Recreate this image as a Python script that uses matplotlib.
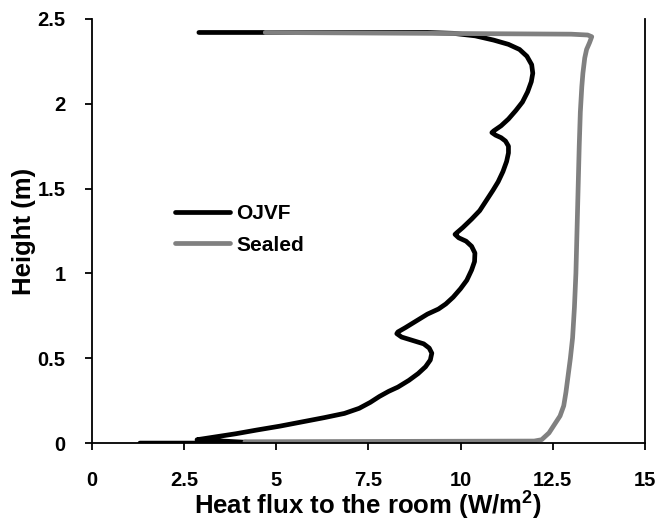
import numpy as np
import matplotlib
matplotlib.use('Agg')
import matplotlib.pyplot as plt

plt.rcParams['font.family'] = ['Liberation Sans', 'DejaVu Sans']
plt.rcParams['font.weight'] = 'bold'
plt.rcParams['mathtext.fontset'] = 'custom'
plt.rcParams['mathtext.bf'] = 'Liberation Sans:bold'
plt.rcParams['mathtext.rm'] = 'Liberation Sans:bold'

# OJVF profile (heat flux W/m2, height m), traced top to bottom
ojvf_flux = [2.9, 9.1, 9.8, 10.4, 10.9, 11.3, 11.6, 11.8, 11.93, 11.96,
             11.92, 11.82, 11.68, 11.5, 11.3, 11.1, 10.9, 10.85, 10.95, 11.1,
             11.22, 11.3, 11.3, 11.25, 11.15, 11.02, 10.88, 10.7, 10.52, 10.3,
             10.06, 9.9, 9.85, 9.95, 10.15, 10.3, 10.39, 10.38, 10.3, 10.17,
             10.0, 9.8, 9.6, 9.4, 9.1, 8.8, 8.5, 8.3, 8.27, 8.4,
             8.7, 9.0, 9.15, 9.22, 9.18, 9.05, 8.85, 8.6, 8.3, 8.05,
             7.8, 7.55, 7.25, 6.85, 6.3, 5.7, 5.1, 4.47, 3.9, 3.3,
             2.85, 4.6, 1.3]
ojvf_height = [2.42, 2.42, 2.415, 2.40, 2.375, 2.35, 2.32, 2.28, 2.23, 2.18,
               2.13, 2.07, 2.01, 1.96, 1.91, 1.87, 1.84, 1.83, 1.815, 1.80,
               1.78, 1.75, 1.71, 1.66, 1.60, 1.54, 1.49, 1.43, 1.37, 1.32,
               1.27, 1.24, 1.23, 1.21, 1.19, 1.16, 1.12, 1.07, 1.02, 0.96,
               0.91, 0.86, 0.82, 0.79, 0.76, 0.72, 0.68, 0.655, 0.645, 0.625,
               0.605, 0.585, 0.56, 0.53, 0.49, 0.45, 0.41, 0.37, 0.33, 0.305,
               0.275, 0.24, 0.205, 0.175, 0.15, 0.125, 0.10, 0.077, 0.055, 0.035,
               0.02, 0.0, 0.0]

# Sealed profile
sealed_flux = [4.7, 9.0, 13.0, 13.45, 13.56, 13.5, 13.42, 13.37, 13.32, 13.29,
               13.25, 13.22, 13.19, 13.16, 13.13, 13.09, 13.04, 12.98, 12.92,
               12.86, 12.8, 12.7, 12.55, 12.4, 12.2, 12.0, 4.15]
sealed_height = [2.42, 2.415, 2.41, 2.405, 2.395, 2.36, 2.32, 2.27, 2.18, 2.1,
                 1.95, 1.75, 1.5, 1.25, 1.0, 0.8, 0.62, 0.5, 0.4,
                 0.3, 0.22, 0.16, 0.11, 0.06, 0.02, 0.012, 0.008]

fig = plt.figure(figsize=(6.6, 5.25), dpi=100)
ax = fig.add_axes([0.1394, 0.156, 0.8376, 0.808])

ax.plot(ojvf_flux, ojvf_height, color='black', lw=3.4,
        solid_capstyle='round', solid_joinstyle='round', label='OJVF')
ax.plot(sealed_flux, sealed_height, color='#808080', lw=3.4,
        solid_capstyle='round', solid_joinstyle='round', label='Sealed')

ax.set_xlim(0, 15)
ax.set_ylim(0, 2.5)
ax.set_xticks([0, 2.5, 5, 7.5, 10, 12.5, 15])
ax.set_xticklabels(['0', '2.5', '5', '7.5', '10', '12.5', '15'])
ax.set_yticks([0, 0.5, 1, 1.5, 2, 2.5])
ax.set_yticklabels(['0', '0.5', '1', '1.5', '2', '2.5'])

ax.spines['top'].set_visible(False)
for s in ['left', 'bottom', 'right']:
    ax.spines[s].set_linewidth(1.3)
ax.tick_params(direction='out', length=5, width=1.3, labelsize=14.5)
ax.tick_params(axis='y', pad=14)
ax.tick_params(axis='x', pad=15)

ax.set_xlabel(r'Heat flux to the room (W/m$^{\mathbf{2}}$)', fontsize=18.5,
              fontweight='bold', labelpad=-1)
ax.set_ylabel('Height (m)', fontsize=18.5, fontweight='bold', labelpad=1)

leg = ax.legend(loc='upper left', bbox_to_anchor=(0.15, 0.563), frameon=False,
                fontsize=15, handlelength=2.65, handletextpad=0.3,
                labelspacing=0.6, borderpad=0, borderaxespad=0)

fig.savefig('out.png', dpi=100)
